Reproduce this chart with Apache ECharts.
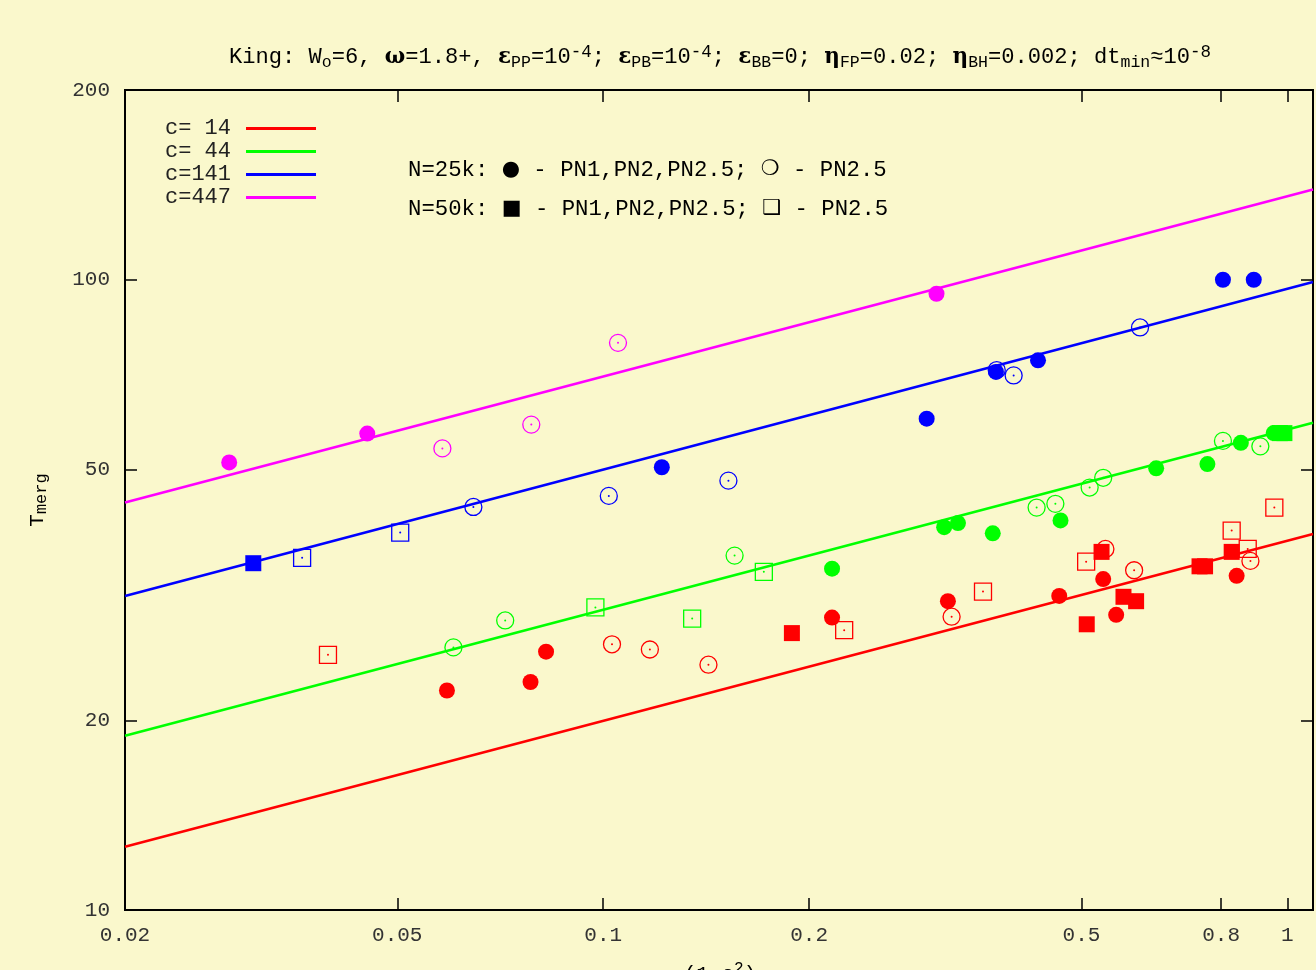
<!DOCTYPE html>
<html>
<head>
<meta charset="utf-8">
<script src="https://cdn.jsdelivr.net/npm/echarts@6/dist/echarts.min.js"></script>
<style>
html,body{margin:0;padding:0;background:#FAF8CC;}
#main{width:1316px;height:970px;}
</style>
</head>
<body>
<div id="main"></div>
<script>
// ---- tick labels ----
const xTicks = [0.02, 0.05, 0.1, 0.2, 0.5, 0.8, 1];
const yTicks = [10, 20, 50, 100, 200];

// ---- fit lines (c values) ----
const cLabels = ['c= 14', 'c= 44', 'c=141', 'c=447'];
const fitX = [0.02, 1.09];
const fitC14 = [12.6, 39.5];
const fitC44 = [18.9, 59.3];
const fitC141 = [31.5, 99.2];
const fitC447 = [44.3, 139];

// ---- c=14 (red) ----
const c14N25Full = [[0.0591,22.3],[0.0783,23.0],[0.0825,25.7],[0.216,29.1],[0.319,30.9],[0.464,31.5],[0.538,33.5],[0.562,29.4],[0.843,33.9]];
const c14N25PN25 = [[0.103,26.4],[0.117,25.9],[0.1425,24.5],[0.323,29.2],[0.542,37.4],[0.597,34.6],[0.883,35.8]];
const c14N50Full = [[0.1887,27.5],[0.509,28.4],[0.535,37.0],[0.576,31.4],[0.601,30.9],[0.744,35.1],[0.758,35.1],[0.829,37.0]];
const c14N50PN25 = [[0.0396,25.4],[0.225,27.8],[0.359,32.0],[0.508,35.7],[0.829,40.0],[0.875,37.4],[0.957,43.5]];

// ---- c=44 (green) ----
const c44N25Full = [[0.216,34.8],[0.315,40.5],[0.330,41.1],[0.371,39.6],[0.466,41.5],[0.643,50.2],[0.764,51.0],[0.855,55.1],[0.955,57.1]];
const c44N25PN25 = [[0.0604,26.1],[0.0719,28.8],[0.1556,36.5],[0.430,43.5],[0.458,44.1],[0.514,46.8],[0.538,48.5],[0.805,55.5],[0.913,54.4]];
const c44N50Full = [[0.975,57.1],[0.99,57.1]];
const c44N50PN25 = [[0.0974,30.2],[0.1349,29.0],[0.1717,34.4]];

// ---- c=141 (blue) ----
const c141N25Full = [[0.1218,50.4],[0.297,60.2],[0.375,71.4],[0.432,74.5],[0.805,100],[0.893,100]];
const c141N25PN25 = [[0.0646,43.6],[0.1019,45.4],[0.1524,48.0],[0.376,71.9],[0.398,70.5],[0.609,84.0]];
const c141N50Full = [[0.0308,35.5]];
const c141N50PN25 = [[0.0363,36.2],[0.0505,39.7]];

// ---- c=447 (magenta) ----
const c447N25Full = [[0.0284,51.3],[0.0452,57.0],[0.307,95.0]];
const c447N25PN25 = [[0.0582,54.0],[0.0785,58.9],[0.1051,79.4]];
const c447N50Full = [];
const c447N50PN25 = [];

const colors = ['#FF0000', '#00FF00', '#0000FF', '#FF00FF'];
const fits = [fitC14, fitC44, fitC141, fitC447];
const groups = [
  [c14N25Full, c14N25PN25, c14N50Full, c14N50PN25],
  [c44N25Full, c44N25PN25, c44N50Full, c44N50PN25],
  [c141N25Full, c141N25PN25, c141N50Full, c141N50PN25],
  [c447N25Full, c447N25PN25, c447N50Full, c447N50PN25]
];

const MONO = "'Liberation Mono', 'DejaVu Sans Mono', monospace";
const TXT = '#222';

const series = [];
fits.forEach((f, i) => {
  series.push({
    name: cLabels[i], type: 'line', symbol: 'none', showSymbol: false, silent: true, z: 1,
    data: fitX.map((x, k) => [x, f[k]]),
    lineStyle: { color: colors[i], width: 2.6 },
    itemStyle: { color: colors[i] }
  });
});
groups.forEach((g, i) => {
  const col = colors[i];
  series.push({ type: 'scatter', data: g[1], symbol: 'circle', symbolSize: 17, z: 2, silent: true,
    itemStyle: { color: 'rgba(0,0,0,0)', borderColor: col, borderWidth: 1.3, opacity: 1 } });
  series.push({ type: 'scatter', data: g[3], symbol: 'rect', symbolSize: 17, z: 2, silent: true,
    itemStyle: { color: 'rgba(0,0,0,0)', borderColor: col, borderWidth: 1.3, opacity: 1 } });
  series.push({ type: 'scatter', data: g[1].concat(g[3]), symbol: 'circle', symbolSize: 2, z: 2, silent: true,
    itemStyle: { color: col, opacity: 1 } });
});
groups.forEach((g, i) => {
  const col = colors[i];
  series.push({ type: 'scatter', data: g[0], symbol: 'circle', symbolSize: 16, z: 3, silent: true,
    itemStyle: { color: col, opacity: 1 } });
  series.push({ type: 'scatter', data: g[2], symbol: 'rect', symbolSize: 16, z: 3, silent: true,
    itemStyle: { color: col, opacity: 1 } });
});

const tickCommon = { inside: true, length: 12, lineStyle: { color: '#000', width: 1.5 } };

const option = {
  backgroundColor: '#FAF8CC',
  animation: false,
  grid: { left: 125, top: 90, right: 3, bottom: 60, show: true, borderColor: '#000', borderWidth: 2,
    backgroundColor: 'transparent', containLabel: false, outerBoundsMode: 'none' },
  legend: {
    data: cLabels, orient: 'vertical', left: 160, top: 112, align: 'right',
    icon: 'rect', itemWidth: 70, itemHeight: 3, itemGap: 0, selectedMode: false,
    textStyle: { fontFamily: MONO, fontSize: 22, color: TXT, lineHeight: 23, padding: [0, 10, 0, 0] }
  },
  xAxis: [
    { type: 'log', logBase: 10, min: 0.02, max: 1.09, position: 'bottom',
      axisLine: { show: false }, splitLine: { show: false }, minorTick: { show: false },
      axisTick: Object.assign({ customValues: xTicks }, tickCommon),
      axisLabel: { customValues: xTicks, margin: 15, fontFamily: MONO, fontSize: 21, color: '#333',
        formatter: v => String(v) } },
    { type: 'log', logBase: 10, min: 0.02, max: 1.09, position: 'top',
      axisLine: { show: false }, splitLine: { show: false },
      axisTick: Object.assign({ customValues: xTicks }, tickCommon),
      axisLabel: { show: false } }
  ],
  yAxis: [
    { type: 'log', logBase: 10, min: 10, max: 200, position: 'left',
      axisLine: { show: false }, splitLine: { show: false },
      axisTick: Object.assign({ customValues: yTicks }, tickCommon),
      axisLabel: { customValues: yTicks, margin: 15, fontFamily: MONO, fontSize: 21, color: '#333',
        formatter: v => String(v) } },
    { type: 'log', logBase: 10, min: 10, max: 200, position: 'right',
      axisLine: { show: false }, splitLine: { show: false },
      axisTick: Object.assign({ customValues: yTicks }, tickCommon),
      axisLabel: { show: false } }
  ],
  graphic: [
    { type: 'text', x: 720, y: 57, silent: true, style: {
      text: '{n|King: W}{s|o}{n|=6, }{g|ω}{n|=1.8+, }{g|ε}{s|PP}{n|=10}{p|-4}{n|; }{g|ε}{s|PB}{n|=10}{p|-4}{n|; }{g|ε}{s|BB}{n|=0; }{g|η}{s|FP}{n|=0.02; }{g|η}{s|BH}{n|=0.002; dt}{s|min}{n|≈10}{p|-8}',
      align: 'center', verticalAlign: 'middle',
      rich: {
        n: { fontFamily: MONO, fontSize: 22.1, color: '#333', lineHeight: 28, verticalAlign: 'middle' },
        g: { fontFamily: "'DejaVu Serif', serif", fontWeight: 'bold', fontSize: 21.5, color: '#222', lineHeight: 28, verticalAlign: 'middle' },
        s: { fontFamily: MONO, fontSize: 16.5, color: '#333', lineHeight: 16, verticalAlign: 'bottom' },
        p: { fontFamily: MONO, fontSize: 17.5, color: '#333', lineHeight: 5, verticalAlign: 'top' }
      } } },
    { type: 'text', x: 408, y: 170, silent: true, style: {
      text: '{t|N=25k: }{b|●}{t| - PN1,PN2,PN2.5; }{b|❍}{t| - PN2.5}',
      align: 'left', verticalAlign: 'middle',
      rich: {
        t: { fontFamily: MONO, fontSize: 22.3, color: TXT },
        b: { fontFamily: "'DejaVu Sans', sans-serif", fontSize: 21, color: '#000' }
      } } },
    { type: 'text', x: 408, y: 209, silent: true, style: {
      text: '{t|N=50k: }{b|■}{t| - PN1,PN2,PN2.5; }{b|❑}{t| - PN2.5}',
      align: 'left', verticalAlign: 'middle',
      rich: {
        t: { fontFamily: MONO, fontSize: 22.3, color: TXT },
        b: { fontFamily: "'DejaVu Sans', sans-serif", fontSize: 21, color: '#000' }
      } } },
    { type: 'text', x: 37, y: 500, rotation: Math.PI / 2, silent: true, style: {
      text: '{n|T}{s|merg}', align: 'center', verticalAlign: 'middle',
      rich: {
        n: { fontFamily: MONO, fontSize: 21, color: '#333', lineHeight: 26, verticalAlign: 'middle' },
        s: { fontFamily: MONO, fontSize: 17, color: '#333', lineHeight: 14, verticalAlign: 'bottom' }
      } } },
    { type: 'text', x: 720, y: 974, silent: true, style: {
      text: '{n|(1-e}{p|2}{n|)}', align: 'center', verticalAlign: 'middle',
      rich: {
        n: { fontFamily: MONO, fontSize: 21, color: '#333', lineHeight: 26, verticalAlign: 'middle' },
        p: { fontFamily: MONO, fontSize: 16, color: '#333', lineHeight: 6, verticalAlign: 'top' }
      } } }
  ],
  series: series
};

const chart = echarts.init(document.getElementById('main'), null, { renderer: 'canvas' });
chart.setOption(option);
</script>
</body>
</html>
